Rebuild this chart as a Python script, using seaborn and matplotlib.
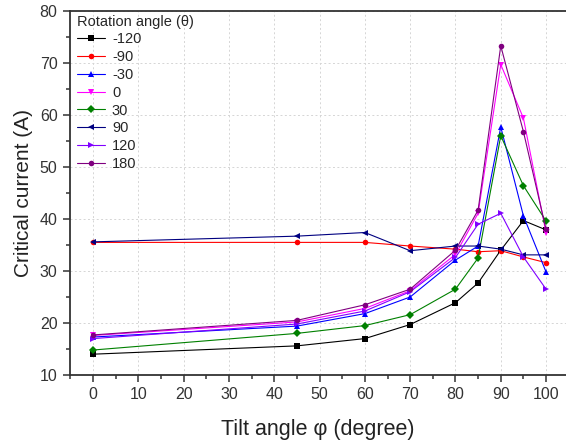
import matplotlib
matplotlib.use("Agg")
import matplotlib.pyplot as plt
from matplotlib.ticker import MultipleLocator
import seaborn as sns
import pandas as pd

tilt = [0, 45, 60, 70, 80, 85, 90, 95, 100]
rotation = ['-120', '-90', '-30', '0', '30', '90', '120', '180']
ic_m120 = [14.0, 15.6, 17.0, 19.7, 23.9, 27.7, 34.0, 39.7, 37.9]
ic_m90 = [35.5, 35.5, 35.5, 34.8, 34.2, 33.7, 33.9, 32.7, 31.6]
ic_m30 = [17.3, 19.4, 21.8, 25.0, 32.1, 34.8, 57.7, 40.6, 29.8]
ic_0 = [17.6, 20.2, 22.8, 26.2, 33.2, 41.1, 69.7, 59.4, 37.3]
ic_30 = [14.8, 18.0, 19.5, 21.6, 26.5, 32.5, 56.0, 46.4, 39.6]
ic_90 = [35.6, 36.7, 37.4, 33.9, 34.8, 34.8, 34.2, 33.1, 33.1]
ic_120 = [17.0, 19.8, 22.3, 26.0, 32.6, 39.0, 41.1, 32.7, 26.5]
ic_180 = [17.7, 20.5, 23.5, 26.5, 34.0, 41.7, 73.3, 56.8, 38.0]

series = [ic_m120, ic_m90, ic_m30, ic_0, ic_30, ic_90, ic_120, ic_180]
rows = []
for lab, vals in zip(rotation, series):
    for t, v in zip(tilt, vals):
        rows.append({'tilt': t, 'ic': v, 'rot': lab})
df = pd.DataFrame(rows)

colors = ['#000000', '#ff0000', '#0000ff', '#ff00ff', '#008000', '#000080', '#8000ff', '#800080']
markers = ['s', 'o', '^', 'v', 'D', '<', '>', 'o']

sns.set_style("ticks")
plt.rcParams['font.family'] = ['Liberation Sans', 'DejaVu Sans']

fig = plt.figure(figsize=(5.66, 4.47), dpi=100)
# plot area is cut off on the right in the original
ax = fig.add_axes([0.1237, 0.1611, 0.8763, 0.8143])

sns.lineplot(data=df, x='tilt', y='ic', hue='rot', style='rot', hue_order=rotation,
             style_order=rotation, palette=colors, markers=dict(zip(rotation, markers)),
             dashes=False, linewidth=0.8, markersize=4, markeredgewidth=0, ax=ax)

ax.set_xlim(-5.08, 104.4)
ax.set_ylim(10, 80)
ax.xaxis.set_major_locator(MultipleLocator(10))
ax.xaxis.set_minor_locator(MultipleLocator(5))
ax.yaxis.set_major_locator(MultipleLocator(10))
ax.yaxis.set_minor_locator(MultipleLocator(5))
ax.tick_params(which='major', direction='out', length=5, width=1.1, labelsize=11.5,
               pad=4, colors='#333333', labelcolor='#333333')
ax.tick_params(which='minor', direction='out', length=3, width=1.1, colors='#333333')
ax.grid(True, which='major', linestyle=(0, (2, 2.5)), color='#d5d5d5', linewidth=0.7)
ax.spines['right'].set_visible(False)
for s in ['left', 'bottom', 'top']:
    ax.spines[s].set_linewidth(1.3)
    ax.spines[s].set_color('#333333')

ax.set_xlabel('Tilt angle φ (degree)', fontsize=15.5, color='#222222', labelpad=12)
ax.set_ylabel('Critical current (A)', fontsize=15, color='#222222', labelpad=5)

leg = ax.legend(title='Rotation angle (θ)', loc='upper left', bbox_to_anchor=(0.008, 0.998),
                frameon=False, fontsize=10.5, title_fontsize=10.5, handlelength=1.9,
                handletextpad=0.5, labelspacing=0.26, borderaxespad=0.0, borderpad=0.2)
leg._legend_box.align = 'left'

fig.savefig('out.png', dpi=100)
